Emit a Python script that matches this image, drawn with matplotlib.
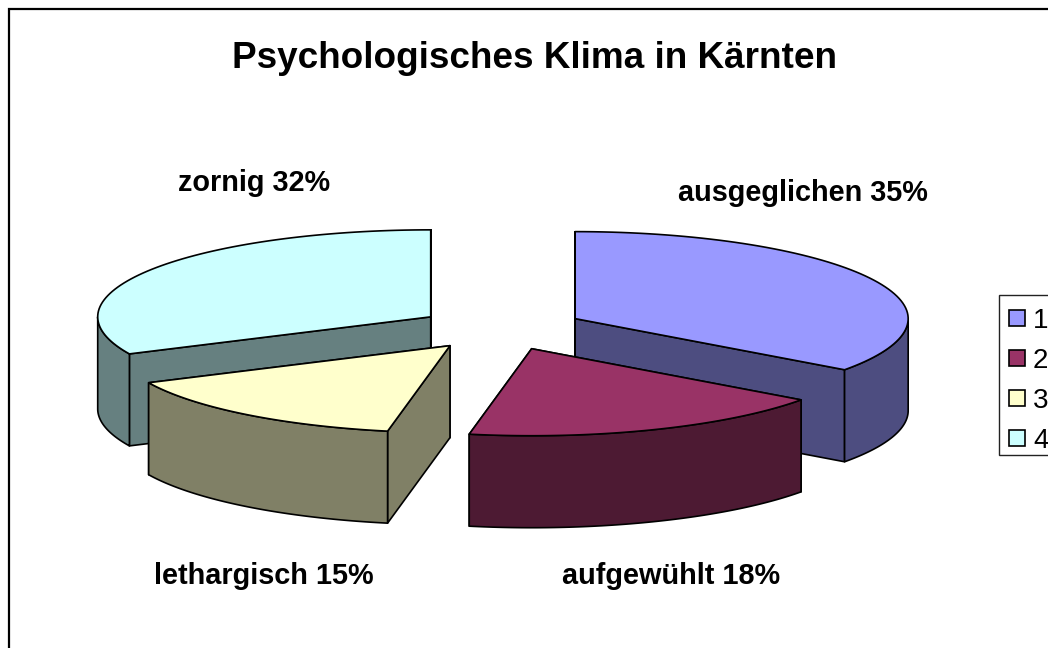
import numpy as np
import matplotlib
matplotlib.use("Agg")
import matplotlib.pyplot as plt
from matplotlib.patches import Polygon, Rectangle

plt.rcParams['font.family'] = ['Liberation Sans', 'DejaVu Sans']

title = "Psychologisches Klima in Kärnten"
names = ["ausgeglichen", "aufgewühlt", "lethargisch", "zornig"]
values = [35, 18, 15, 32]
legend_labels = ["1", "2", "3", "4"]
top_colors = ["#9999FF", "#993366", "#FFFFCC", "#CCFFFF"]
side_colors = ["#4D4D80", "#4D1A33", "#808066", "#668080"]

# pie geometry in pixels
cx, cy = 501, 328.5
rx, ry = 333, 87
depth = 92
explode = 0.25

label_pos = [(803, 193), (671, 576), (264, 576), (254, 183)]


def ring(a, b, ox, oy, dz=0):
    t = np.radians(np.linspace(a, b, 80))
    return np.column_stack([ox + rx * np.sin(t), oy - ry * np.cos(t) + dz])


fig = plt.figure(figsize=(10.48, 6.48), dpi=100)
ax = fig.add_axes([0, 0, 1, 1])
ax.set_xlim(0, 1048)
ax.set_ylim(648, 0)
ax.axis("off")

ax.add_patch(Rectangle((9, 9), 1100, 700, fc="white", ec="black", lw=1.6))

edges = np.cumsum([0] + values) * 3.6
slices = []
for i in range(len(values)):
    a, b = edges[i], edges[i + 1]
    mid = np.radians((a + b) / 2)
    ox = cx + explode * rx * np.sin(mid)
    oy = cy - explode * ry * np.cos(mid)
    slices.append((i, a, b, ox, oy))

# back slices first, so the front ones sit on top
for i, a, b, ox, oy in [slices[3], slices[0], slices[2], slices[1]]:
    style = dict(fc=side_colors[i], ec="black", lw=1.2, joinstyle="round")
    # cut face that reaches lower on screen goes last, it hides the other one
    ends = sorted([ring(ang, ang, ox, oy)[0] for ang in (a, b)], key=lambda p: p[1])
    for p in ends:
        ax.add_patch(Polygon([(ox, oy), p, p + [0, depth], (ox, oy + depth)], **style))
    lo, hi = max(a, 90), min(b, 270)
    if lo < hi:
        wall = np.vstack([ring(lo, hi, ox, oy), ring(hi, lo, ox, oy, depth)])
        ax.add_patch(Polygon(wall, **style))
    top = np.vstack([[(ox, oy)], ring(a, b, ox, oy)])
    ax.add_patch(Polygon(top, fc=top_colors[i], ec="black", lw=1.2, joinstyle="round"))

ax.text(535, 58, title, fontsize=26.6, fontweight="bold", ha="center", va="center")
for name, val, (x, y) in zip(names, values, label_pos):
    ax.text(x, y, f"{name} {val}%", fontsize=20.8, fontweight="bold", ha="center", va="center")

# legend runs off the right edge of the picture, so it is drawn by hand
ax.add_patch(Rectangle((999, 295), 100, 160, fc="white", ec="#222222", lw=1.0))
for k, (lab, c) in enumerate(zip(legend_labels, top_colors)):
    yc = 318 + 40 * k
    ax.add_patch(Rectangle((1008.5, yc - 8), 16, 16, fc=c, ec="black", lw=1.2))
    ax.text(1033, yc + 10, lab, fontsize=20, ha="left", va="baseline")

fig.savefig("out.png", dpi=100)
